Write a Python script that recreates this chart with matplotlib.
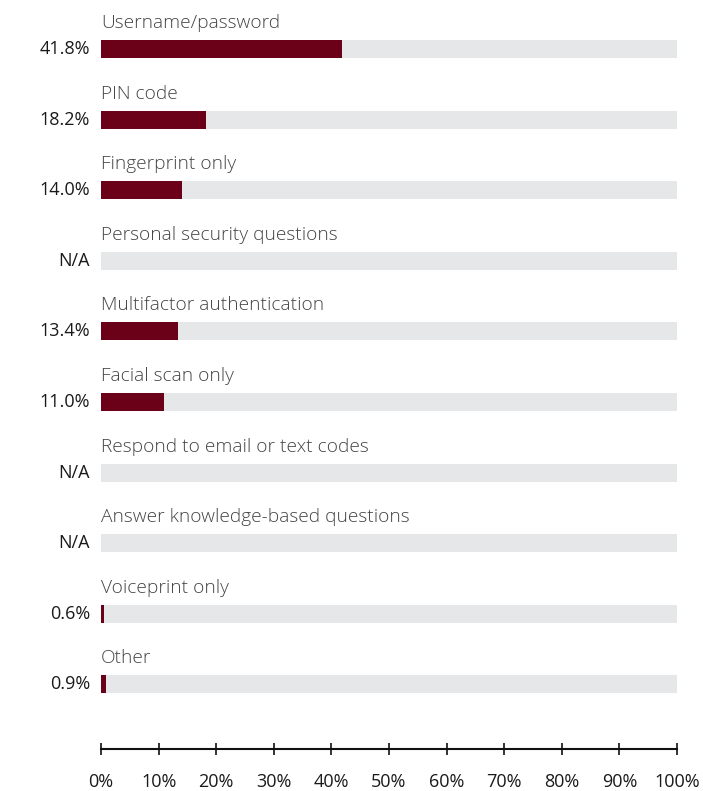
import matplotlib
matplotlib.use("Agg")
import matplotlib.pyplot as plt
import numpy as np

categories = ["Username/password", "PIN code", "Fingerprint only",
              "Personal security questions", "Multifactor authentication",
              "Facial scan only", "Respond to email or text codes",
              "Answer knowledge-based questions", "Voiceprint only", "Other"]
values = [41.8, 18.2, 14.0, None, 13.4, 11.0, None, None, 0.6, 0.9]
value_labels = ["41.8%", "18.2%", "14.0%", "N/A", "13.4%", "11.0%", "N/A", "N/A", "0.6%", "0.9%"]
ticks = [0, 10, 20, 30, 40, 50, 60, 70, 80, 90, 100]
tick_labels = [f"{t}%" for t in ticks]

plt.rcParams['font.family'] = ['Open Sans', 'DejaVu Sans']

W, H = 703, 791
fig = plt.figure(figsize=(W / 100, H / 100), dpi=100)
left_px, right_px = 101, 677
top_px, spine_px = 0, 749
ax = fig.add_axes([left_px / W, (H - spine_px) / H, (right_px - left_px) / W, (spine_px - top_px) / H])

pitch = 70.6
first = 49
y = np.arange(len(categories))
ax.set_xlim(0, 100)
ax.set_ylim((spine_px - first) / pitch, -(first - top_px) / pitch)

bar_h = 18 / pitch
ax.barh(y, [100] * len(y), height=bar_h, color="#e6e7e8", zorder=1)
vals = [v if v is not None else 0 for v in values]
ax.barh(y, vals, height=bar_h, color="#6b0019", zorder=2)

for i, (cat, lab) in enumerate(zip(categories, value_labels)):
    ax.text(0, i - 26 / pitch, cat, ha="left", va="center", fontsize=13.8,
            color="#444444", fontweight="light")
    ax.annotate(lab, xy=(0, i), xycoords="data", xytext=(-11, 0),
                textcoords="offset pixels", ha="right", va="center",
                fontsize=13, color="#1a1a1a")

for s in ["top", "right", "left"]:
    ax.spines[s].set_visible(False)
ax.spines["bottom"].set_linewidth(1.5)
ax.spines["bottom"].set_color("#111111")
ax.set_yticks([])
ax.set_xticks(ticks)
ax.set_xticklabels(tick_labels, fontsize=13, color="#1a1a1a")
ax.tick_params(axis="x", direction="inout", length=8, width=1.2, color="#111111", pad=13)

fig.savefig("out.png", dpi=100)
